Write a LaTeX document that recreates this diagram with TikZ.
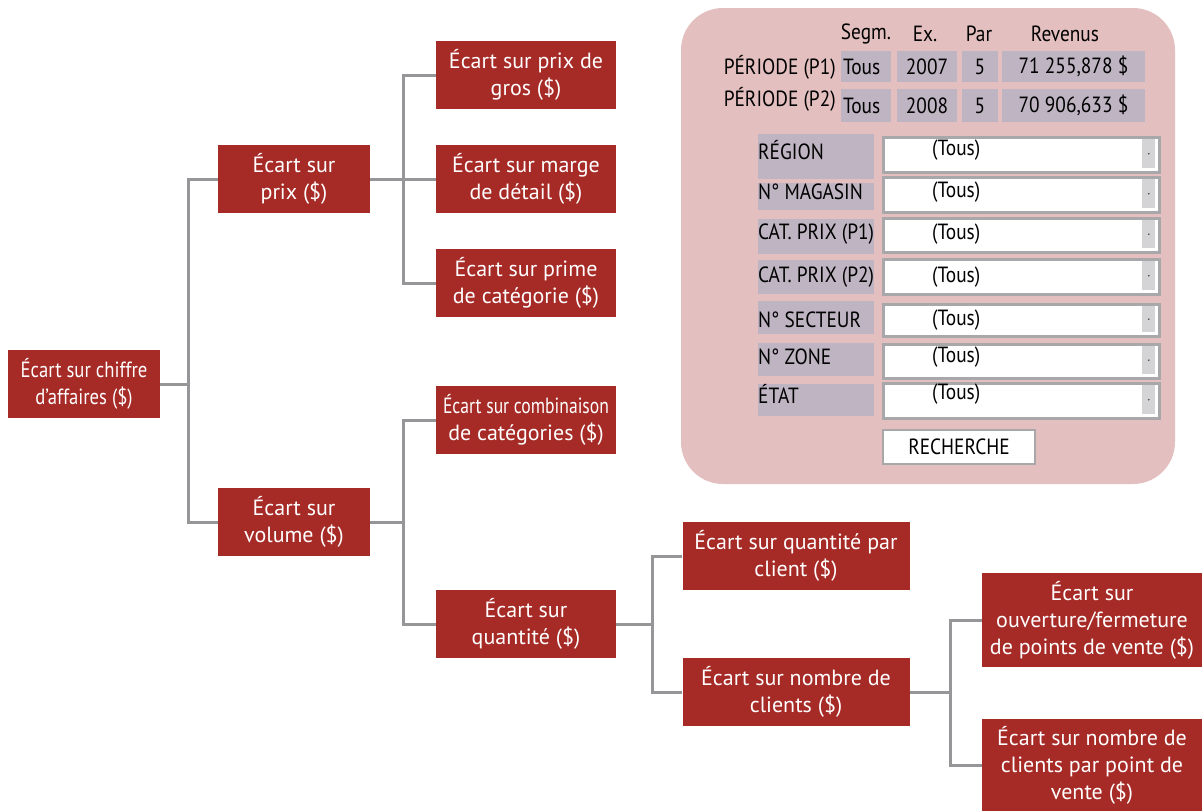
\documentclass[tikz,border=0pt]{standalone}
\usepackage{fontspec}
\setmainfont{PT Sans}
\newfontfamily\condfont{PT Sans}[FakeStretch=0.88]
\definecolor{boxred}{RGB}{166,42,38}
\definecolor{conncol}{RGB}{150,150,152}
\definecolor{panelcol}{RGB}{228,191,191}
\definecolor{cellcol}{RGB}{190,180,194}
\definecolor{ddborder}{RGB}{168,168,170}
\definecolor{btncol}{RGB}{212,212,214}
\begin{document}
\begin{tikzpicture}[x=1pt,y=-1pt,
  box/.style={fill=boxred,text=white,inner sep=0pt,align=center,font=\fontsize{22}{27}\selectfont},
  conn/.style={draw=conncol,line width=3pt},
  cellst/.style={fill=cellcol,inner sep=0pt,font=\condfont\fontsize{22}{24}\selectfont},
  ptext/.style={inner sep=0pt,font=\condfont\fontsize{22}{24}\selectfont,text=black},
  labcell/.style={fill=cellcol,inner sep=0pt},
  dd/.style={fill=white,draw=ddborder,line width=3pt,inner sep=0pt},
  ddbtn/.style={fill=btncol,inner sep=0pt},
  btn/.style={fill=white,draw=ddborder,line width=2pt,inner sep=0pt,font=\condfont\fontsize{22}{24}\selectfont}]
\useasboundingbox (0,0) rectangle (1202,811);

% ---------- tree boxes ----------
\node[box,minimum width=152,minimum height=68] (b1) at (84,384) {\scalebox{0.85}[1]{Écart sur chiffre}\\\scalebox{0.85}[1]{d’affaires (\$)}};
\node[box,minimum width=152,minimum height=68] (b2) at (294,179) {Écart sur\\prix (\$)};
\node[box,minimum width=152,minimum height=68] (b3) at (294,522) {Écart sur\\volume (\$)};
\node[box,minimum width=180,minimum height=68] (b4) at (526,75) {Écart sur prix de\\gros (\$)};
\node[box,minimum width=180,minimum height=68] (b5) at (526,179) {Écart sur marge\\de détail (\$)};
\node[box,minimum width=180,minimum height=68] (b6) at (526,283) {Écart sur prime\\de catégorie (\$)};
\node[box,minimum width=180,minimum height=68] (b7) at (526,420) {\scalebox{0.8}[1]{Écart sur combinaison}\\de catégories (\$)};
\node[box,minimum width=180,minimum height=68] (b8) at (526,624) {Écart sur\\quantité (\$)};
\node[box,minimum width=227,minimum height=68] (b9) at (796,556) {Écart sur quantité par\\client (\$)};
\node[box,minimum width=227,minimum height=68] (b10) at (796,692) {Écart sur nombre de\\clients (\$)};
\node[box,minimum width=220,minimum height=94] (b11) at (1092,620) {Écart sur\\ouverture/fermeture\\de points de vente (\$)};
\node[box,minimum width=220,minimum height=93] (b12) at (1092,765) {Écart sur nombre de\\clients par point de\\vente (\$)};

% ---------- connectors ----------
\coordinate (j1) at (188,384);
\coordinate (j2) at (403,179);
\coordinate (j3) at (403,522);
\coordinate (j4) at (652,624);
\coordinate (j5) at (950,692);
\draw[conn] (b1.east) -- (j1);
\draw[conn] (b2.west) -| (j1) |- (b3.west);
\draw[conn] (b2.east) -- (j2);
\draw[conn] (b4.west) -| (j2) |- (b6.west);
\draw[conn] (j2) |- (b5.west);
\draw[conn] (b3.east) -- (j3);
\draw[conn] (b7.west) -| (j3) |- (b8.west);
\draw[conn] (b8.east) -- (j4);
\draw[conn] (b9.west) -| (j4) |- (b10.west);
\draw[conn] (b10.east) -- (j5);
\draw[conn] (b11.west) -| (j5) |- (b12.west);

% ---------- panel ----------
\fill[panelcol,rounded corners=42] (681,8) rectangle (1175,484);

\node[ptext] (hs) at (866,34) {Segm.};
\node[ptext] (he) at (925,34) {Ex.};
\node[ptext] (hp) at (979,34) {Par};
\node[ptext] (hr) at (1065,34) {Revenus};

\node[ptext,anchor=east] (r1) at (836,67) {PÉRIODE (P1)};
\node[ptext,anchor=east] (r2) at (836,99) {PÉRIODE (P2)};

\node[cellst,minimum width=50,minimum height=31,text width=48,align=left] (c11) at (866,66.5) {\hspace*{1pt}Tous};
\node[cellst,minimum width=60,minimum height=31] (c12) at (927,66.5) {2007};
\node[cellst,minimum width=36,minimum height=31] (c13) at (980,66.5) {5};
\node[cellst,minimum width=143,minimum height=31] (c14) at (1073.5,66.5) {71 255,878 \$};
\node[cellst,minimum width=50,minimum height=33,text width=48,align=left] (c21) at (866,105.5) {\hspace*{1pt}Tous};
\node[cellst,minimum width=60,minimum height=33] (c22) at (927,105.5) {2008};
\node[cellst,minimum width=36,minimum height=33] (c23) at (980,105.5) {5};
\node[cellst,minimum width=143,minimum height=33] (c24) at (1073.5,105.5) {70 906,633 \$};

\foreach \lab/\dt/\db/\ct/\cb/\ty [count=\i] in {
  RÉGION/136/171/134/179/150,
  N° MAGASIN/176/211/183/210/192,
  CAT. PRIX (P1)/217/251/219/254/234,
  CAT. PRIX (P2)/258/293/260/294/277,
  N° SECTEUR/303/335/301/334/320,
  N° ZONE/343/377/343/376/357,
  ÉTAT/382/417/384/416/394}{
  \node[labcell,minimum width=116,minimum height=\cb-\ct,anchor=north west] (lc\i) at (758,\ct) {};
  \node[ptext,anchor=west] (lt\i) at (758,\ty) {\lab};
  \node[dd,minimum width=276,minimum height=\db-\dt,anchor=north west] (dd\i) at (882,\dt) {};
  \node[ddbtn,minimum width=13,minimum height=\db-\dt-6,anchor=north east] (bt\i) at (1155.5,\dt+3) {};
  \fill[black!70] (bt\i.center) circle (0.9);
  \node[ptext,anchor=west] (tv\i) at (932,\ty) {(Tous)};
}

\node[btn,minimum width=152,minimum height=34] (rech) at (959,447) {RECHERCHE};
\end{tikzpicture}
\end{document}
